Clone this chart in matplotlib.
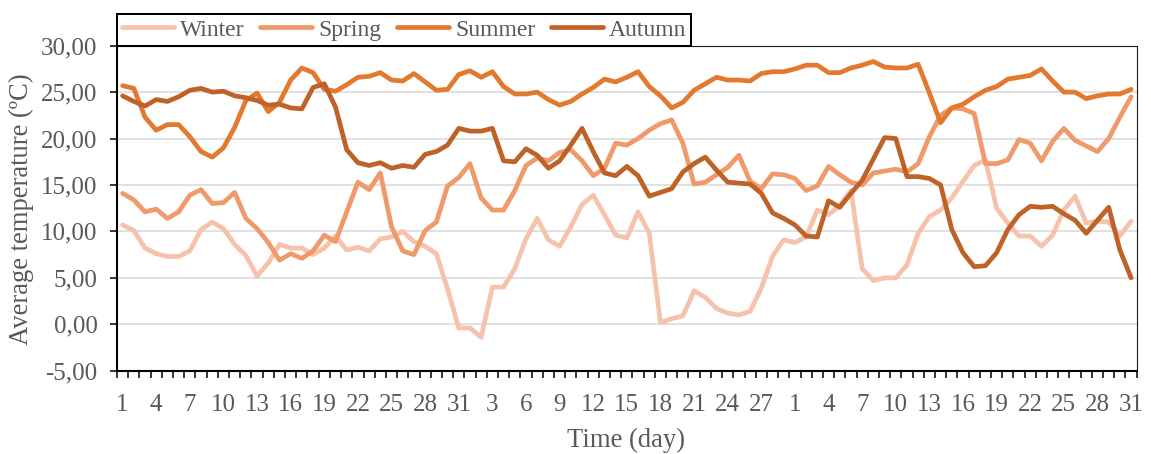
import matplotlib
matplotlib.use("Agg")
import matplotlib.pyplot as plt
from matplotlib.ticker import FixedLocator, NullFormatter, FixedFormatter

plt.rcParams['font.family'] = ['Liberation Serif', 'DejaVu Serif']

# ---- data (91 days: 31 + 29 + 31) ----
month_lengths = [31, 29, 31]
days = [d for m in month_lengths for d in range(1, m + 1)]

series_names = ["Winter", "Spring", "Summer", "Autumn"]
series_colors = ["#F6C2AC", "#F09A6B", "#E2792F", "#BE6227"]

winter = [10.7, 10.1, 8.2, 7.6, 7.3, 7.3, 7.9, 10.2, 11.0, 10.3,
          8.6, 7.4, 5.2, 6.6, 8.6, 8.2, 8.2, 7.5, 8.2, 9.5,
          8.0, 8.3, 7.9, 9.2, 9.4, 10.0, 8.9, 8.4, 7.6, 3.8,
          -0.4, -0.4, -1.4, 4.0, 4.0, 6.0, 9.2, 11.4, 9.1, 8.4,
          10.5, 12.9, 13.9, 11.8, 9.6, 9.3, 12.1, 9.8, 0.2, 0.6,
          0.9, 3.6, 2.9, 1.7, 1.2, 1.0, 1.4, 3.9, 7.3, 9.1,
          8.8, 9.4, 12.3, 11.8, 12.8, 14.4, 6.0, 4.7, 5.0, 5.0,
          6.4, 9.8, 11.6, 12.3, 13.6, 15.4, 17.1, 17.7, 12.5, 10.9,
          9.5, 9.5, 8.4, 9.6, 12.3, 13.8, 10.9, 11.1, 11.0, 9.5,
          11.1]
spring = [14.1, 13.4, 12.1, 12.4, 11.4, 12.1, 13.9, 14.5, 13.0, 13.1,
          14.2, 11.4, 10.3, 8.8, 6.9, 7.6, 7.1, 7.9, 9.6, 8.9,
          12.1, 15.3, 14.5, 16.3, 10.5, 7.9, 7.5, 10.1, 11.0, 14.9,
          15.8, 17.3, 13.6, 12.3, 12.3, 14.4, 17.1, 17.9, 17.6, 18.5,
          18.8, 17.6, 16.0, 16.8, 19.5, 19.3, 20.0, 20.9, 21.6, 22.0,
          19.5, 15.1, 15.3, 16.1, 16.9, 18.2, 15.4, 14.6, 16.2, 16.1,
          15.7, 14.4, 14.9, 17.0, 16.1, 15.3, 15.0, 16.3, 16.5, 16.7,
          16.4, 17.3, 20.2, 22.5, 23.3, 23.2, 22.7, 17.3, 17.3, 17.7,
          19.9, 19.5, 17.6, 19.7, 21.1, 19.8, 19.2, 18.6, 20.0, 22.3,
          24.5]
summer = [25.7, 25.4, 22.3, 20.9, 21.5, 21.5, 20.2, 18.6, 18.0, 19.0,
          21.2, 24.1, 24.9, 22.9, 23.9, 26.3, 27.6, 27.1, 25.3, 25.1,
          25.8, 26.6, 26.7, 27.1, 26.3, 26.2, 27.0, 26.1, 25.2, 25.3,
          26.9, 27.3, 26.6, 27.2, 25.6, 24.8, 24.8, 25.0, 24.2, 23.6,
          24.0, 24.8, 25.5, 26.4, 26.1, 26.6, 27.2, 25.6, 24.6, 23.3,
          23.9, 25.2, 25.9, 26.6, 26.3, 26.3, 26.2, 27.0, 27.2, 27.2,
          27.5, 27.9, 27.9, 27.1, 27.1, 27.6, 27.9, 28.3, 27.7, 27.6,
          27.6, 28.0, 24.9, 21.7, 23.3, 23.7, 24.5, 25.2, 25.6, 26.4,
          26.6, 26.8, 27.5, 26.2, 25.0, 25.0, 24.3, 24.6, 24.8, 24.8,
          25.3]
autumn = [24.6, 24.0, 23.5, 24.2, 24.0, 24.5, 25.2, 25.4, 25.0, 25.1,
          24.6, 24.4, 24.1, 23.6, 23.7, 23.3, 23.2, 25.5, 25.9, 23.4,
          18.8, 17.4, 17.1, 17.4, 16.8, 17.1, 16.9, 18.3, 18.6, 19.3,
          21.1, 20.8, 20.8, 21.1, 17.6, 17.5, 18.9, 18.2, 16.8, 17.6,
          19.3, 21.1, 18.6, 16.3, 16.0, 17.0, 16.0, 13.8, 14.2, 14.6,
          16.4, 17.3, 18.0, 16.6, 15.3, 15.2, 15.1, 14.1, 12.0, 11.4,
          10.7, 9.5, 9.4, 13.3, 12.6, 14.1, 15.5, 17.8, 20.1, 20.0,
          15.9, 15.9, 15.7, 15.0, 10.2, 7.7, 6.2, 6.3, 7.7, 10.2,
          11.8, 12.7, 12.6, 12.7, 11.9, 11.2, 9.8, 11.2, 12.6, 8.0,
          5.0]

y_ticks = [-5, 0, 5, 10, 15, 20, 25, 30]
y_tick_labels = ["-5,00", "0,00", "5,00", "10,00", "15,00", "20,00", "25,00", "30,00"]

# ---- figure ----
W, H = 1151, 454
fig = plt.figure(figsize=(W / 100, H / 100), dpi=100)
ax = fig.add_axes([117 / W, 1 - 370.7 / H, (1136.7 - 117) / W, (370.7 - 45.7) / H])

txt_color = "#595959"
x = list(range(len(days)))
all_series = [winter, spring, summer, autumn]
handles = []
for name, vals, col in zip(series_names, all_series, series_colors):
    h, = ax.plot(x, vals, color=col, lw=3.4, solid_joinstyle='round',
                 solid_capstyle='round', label=name, zorder=3)
    handles.append(h)

ax.set_xlim(-0.5, len(days) - 0.5)
ax.set_ylim(-5, 30)

# gridlines
for yv in y_ticks[1:-1]:
    ax.axhline(yv, color="#D9D9D9", lw=1.1, zorder=1)

# y axis
ax.yaxis.set_major_locator(FixedLocator(y_ticks))
ax.yaxis.set_major_formatter(FixedFormatter(y_tick_labels))
ax.tick_params(axis='y', which='major', direction='out', length=5, width=1.1,
               color='black', labelsize=18, labelcolor=txt_color, pad=9)

# x axis: ticks at category boundaries, labels every 3rd category
bounds = [i - 0.5 for i in range(len(days) + 1)]
ax.xaxis.set_major_locator(FixedLocator(bounds))
ax.xaxis.set_major_formatter(NullFormatter())
lab_pos = list(range(0, len(days), 3))
ax.xaxis.set_minor_locator(FixedLocator(lab_pos))
ax.xaxis.set_minor_formatter(FixedFormatter([str(days[i]) for i in lab_pos]))
ax.tick_params(axis='x', which='major', direction='out', length=5, width=1.1,
               color='black')
ax.tick_params(axis='x', which='minor', length=0, labelsize=18,
               labelcolor=txt_color, pad=16.5)

for s in ['left', 'bottom']:
    ax.spines[s].set_linewidth(1.5)
    ax.spines[s].set_color('black')
for s in ['top', 'right']:
    ax.spines[s].set_linewidth(0.8)
    ax.spines[s].set_color('#1a1a1a')

fig.text(21.7 / W, 1 - 209 / H, "Average temperature (ºC)", rotation=90,
         ha='center', va='center', fontsize=19.2, color=txt_color)
fig.text(626 / W, 1 - 440 / H, "Time (day)", ha='center', va='center',
         fontsize=19.2, color=txt_color)

leg = fig.legend(handles=handles, loc='lower left',
                 bbox_to_anchor=(117 / W, 1 - 45.7 / H), ncol=4, frameon=True,
                 fontsize=17, handlelength=2.2, handletextpad=0.25,
                 columnspacing=0.67, borderpad=0.22, borderaxespad=0,
                 fancybox=False, labelcolor=txt_color)
leg.get_frame().set_edgecolor('black')
leg.get_frame().set_linewidth(1.45)
leg.get_frame().set_facecolor('white')
leg.get_frame().set_alpha(1)

fig.savefig("out.png", dpi=100)
